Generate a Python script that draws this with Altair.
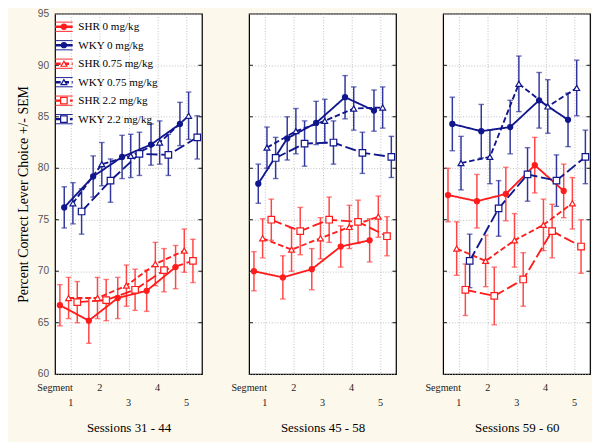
import altair as alt
import pandas as pd

# ---------------- data ----------------
panels = ["Sessions 31 - 44", "Sessions 45 - 58", "Sessions 59 - 60"]
segments = [1, 2, 3, 4, 5]
segment_axis_name = "Segment"
series_names = ["SHR 0 mg/kg", "WKY 0 mg/kg", "SHR 0.75 mg/kg",
                "WKY 0.75 mg/kg", "SHR 2.2 mg/kg", "WKY 2.2 mg/kg"]
series_strain = ["SHR", "WKY", "SHR", "WKY", "SHR", "WKY"]
series_dose = ["0", "0", "0.75", "0.75", "2.2", "2.2"]

# means (rows follow series_names, columns follow segments)
means_p1 = [
    [66.7, 65.2, 67.4, 68.1, 70.4],
    [76.2, 79.2, 81.1, 82.3, 84.3],
    [67.4, 67.4, 68.6, 70.7, 72.0],
    [76.6, 80.4, 81.2, 82.5, 85.1],
    [67.0, 67.2, 68.2, 70.1, 71.0],
    [75.8, 78.8, 81.4, 81.3, 83.0],
]
means_p2 = [
    [70.0, 69.4, 70.2, 72.4, 73.0],
    [78.5, 82.9, 84.4, 86.9, 85.6],
    [73.2, 72.1, 73.2, 74.3, 75.3],
    [82.0, 83.6, 84.6, 85.8, 85.9],
    [75.0, 73.9, 75.0, 74.8, 73.4],
    [81.0, 82.4, 82.5, 81.5, 81.1],
]
means_p3 = [
    [77.4, 76.8, 77.5, 80.3, 77.8],
    [84.3, 83.6, 84.0, 86.6, 84.7],
    [72.2, 71.0, 73.0, 74.5, 76.6],
    [80.5, 81.1, 88.2, 86.0, 87.8],
    [68.2, 67.6, 69.2, 73.9, 72.4],
    [71.0, 76.1, 79.4, 78.8, 81.1],
]
# standard errors
sem_p1 = [
    [2.0, 2.2, 2.0, 2.0, 2.1],
    [2.0, 2.0, 2.1, 2.0, 2.1],
    [2.0, 2.0, 2.0, 2.1, 2.1],
    [2.0, 2.1, 2.1, 2.1, 2.3],
    [2.0, 2.0, 2.0, 2.1, 2.1],
    [2.2, 2.1, 2.1, 2.0, 2.1],
]
sem_p2 = [
    [1.9, 2.1, 2.0, 2.0, 2.1],
    [1.9, 2.1, 2.1, 2.1, 2.0],
    [1.9, 2.1, 2.0, 2.1, 2.0],
    [2.0, 2.2, 2.1, 2.1, 2.0],
    [2.0, 2.3, 2.2, 2.1, 1.9],
    [2.0, 2.2, 2.1, 2.0, 2.0],
]
sem_p3 = [
    [2.6, 2.6, 2.6, 2.7, 2.6],
    [2.6, 2.6, 2.6, 2.7, 2.6],
    [2.6, 2.5, 2.6, 2.5, 2.5],
    [2.6, 2.6, 2.7, 2.6, 2.7],
    [2.5, 2.8, 2.6, 2.6, 2.6],
    [2.6, 2.7, 2.6, 2.5, 2.6],
]
all_means = [means_p1, means_p2, means_p3]
all_sems = [sem_p1, sem_p2, sem_p3]

y_tick_values = [60, 65, 70, 75, 80, 85, 90, 95]
y_min, y_max = 60, 95
x_min, x_max = 0.46, 5.54

rows = []
for p, panel in enumerate(panels):
    for s, name in enumerate(series_names):
        for k, seg in enumerate(segments):
            rows.append({"panel": panel, "series": name, "sidx": s,
                         "strain": series_strain[s], "dose": series_dose[s],
                         "segment": seg, "mean": all_means[p][s][k],
                         "sem": all_sems[p][s][k]})
df = pd.DataFrame(rows)

legend_df = pd.DataFrame({"series": series_names, "strain": series_strain,
                          "dose": series_dose, "row": list(range(len(series_names)))})
ytick_df = pd.DataFrame({"v": y_tick_values[1:-1]})
xlab_df = pd.DataFrame({"pos": [x_min] + segments,
                        "label": [segment_axis_name] + [str(s) for s in segments]})

# ---------------- style ----------------
RED = "#ff1c1c"
NAVY = "#10168c"
RED_ERR = "#ff4545"
NAVY_ERR = "#30369c"
BG = "#fdf8ec"
SERIF = "Liberation Serif"
W, H = 159, 390

x_scale = alt.Scale(domain=[x_min, x_max], nice=False, zero=False)
y_scale = alt.Scale(domain=[y_min, y_max], nice=False, zero=False)
dash_scale = alt.Scale(domain=["0", "0.75", "2.2"], range=[[1, 0], [6, 3], [12, 4]])
shape_scale = alt.Scale(domain=["0", "0.75", "2.2"], range=["circle", "triangle-up", "square"])
size_scale = alt.Scale(domain=["0", "0.75", "2.2"], range=[30, 50, 38])
fill_scale = alt.Scale(domain=series_names, range=[RED, NAVY, "white", "white", "white", "white"])
stroke_scale = alt.Scale(domain=["SHR", "WKY"], range=[RED, NAVY])
main_col = "datum.strain == 'SHR' ? '%s' : '%s'" % (RED, NAVY)
err_col = "datum.strain == 'SHR' ? '%s' : '%s'" % (RED_ERR, NAVY_ERR)


def x_axis(title):
    return alt.Axis(values=segments, labels=False, title=title, titlePadding=51)


def y_axis(first):
    if first:
        return alt.Axis(values=y_tick_values, title="Percent Correct Lever Choice +/- SEM",
                        labelPadding=7, titlePadding=8, titleFontSize=15)
    return alt.Axis(values=y_tick_values, labels=False, title=None)


def make_panel(p):
    first = p == 0
    X = lambda f: alt.X(f, scale=x_scale, axis=x_axis(panels[p]))
    Y = lambda f: alt.Y(f, scale=y_scale, axis=y_axis(first))
    base = alt.Chart(df[df["panel"] == panels[p]]).transform_calculate(
        xpos="datum.segment + (datum.sidx - 2.5) * 0.15",
        lo="datum.mean - datum.sem",
        hi="datum.mean + datum.sem",
        maincol=main_col,
        errcol=err_col,
    )
    err = base.mark_rule(strokeWidth=1.6).encode(
        x=X("xpos:Q"), y=Y("lo:Q"), y2="hi:Q",
        color=alt.Color("errcol:N", scale=None))
    cap_lo = base.mark_tick(orient="horizontal", size=6, thickness=1.5).encode(
        x=X("xpos:Q"), y=Y("lo:Q"), color=alt.Color("errcol:N", scale=None))
    cap_hi = base.mark_tick(orient="horizontal", size=6, thickness=1.5).encode(
        x=X("xpos:Q"), y=Y("hi:Q"), color=alt.Color("errcol:N", scale=None))
    lines = base.mark_line(strokeWidth=2).encode(
        x=X("xpos:Q"), y=Y("mean:Q"),
        color=alt.Color("maincol:N", scale=None),
        strokeDash=alt.StrokeDash("dose:N", scale=dash_scale, legend=None),
        detail="series:N", order="segment:Q")
    pts = base.mark_point(opacity=1, fillOpacity=1, strokeWidth=1.3).encode(
        x=X("xpos:Q"), y=Y("mean:Q"),
        shape=alt.Shape("dose:N", scale=shape_scale, legend=None),
        size=alt.Size("dose:N", scale=size_scale, legend=None),
        fill=alt.Fill("series:N", scale=fill_scale, legend=None),
        stroke=alt.Stroke("strain:N", scale=stroke_scale, legend=None))
    tick_base = alt.Chart(ytick_df)
    tl = tick_base.mark_rule(color="black", strokeWidth=1).encode(
        y=Y("v:Q"), x=alt.value(0), x2=alt.value(4))
    tr = tick_base.mark_rule(color="black", strokeWidth=1).encode(
        y=Y("v:Q"), x=alt.value(W - 4), x2=alt.value(W))
    # staggered segment labels below the panel
    xl = alt.Chart(xlab_df).transform_calculate(
        lower="datum.pos % 2 == 1")
    xl_top = xl.transform_filter("!datum.lower").mark_text(
        font=SERIF, fontSize=11, color="#222", baseline="middle").encode(
        x=X("pos:Q"), y=alt.value(H + 15), text="label:N")
    xl_bot = xl.transform_filter("datum.lower").mark_text(
        font=SERIF, fontSize=11, color="#222", baseline="middle").encode(
        x=X("pos:Q"), y=alt.value(H + 31), text="label:N")
    layers = [tl, tr, err, cap_lo, cap_hi, lines, pts, xl_top, xl_bot]

    if first:
        lb = alt.Chart(legend_df).transform_calculate(
            ly="%d - (14 + datum.row * 20) * %d / %d" % (y_max, y_max - y_min, H),
            maincol=main_col)
        thin_top = lb.mark_rule(strokeWidth=1, yOffset=-5).encode(
            y=Y("ly:Q"), x=alt.value(0), x2=alt.value(19),
            color=alt.Color("maincol:N", scale=None))
        thin_bot = lb.mark_rule(strokeWidth=1, yOffset=5).encode(
            y=Y("ly:Q"), x=alt.value(0), x2=alt.value(19),
            color=alt.Color("maincol:N", scale=None))
        thick = lb.mark_rule(strokeWidth=2.6).encode(
            y=Y("ly:Q"), x=alt.value(0), x2=alt.value(19),
            color=alt.Color("maincol:N", scale=None),
            strokeDash=alt.StrokeDash("dose:N", scale=dash_scale, legend=None))
        lpts = lb.mark_point(opacity=1, fillOpacity=1, strokeWidth=1.3).encode(
            y=Y("ly:Q"), x=alt.value(9.5),
            shape=alt.Shape("dose:N", scale=shape_scale, legend=None),
            size=alt.Size("dose:N", scale=size_scale, legend=None),
            fill=alt.Fill("series:N", scale=fill_scale, legend=None),
            stroke=alt.Stroke("strain:N", scale=stroke_scale, legend=None))
        ltext = lb.mark_text(align="left", baseline="middle", font=SERIF,
                             fontSize=12, color="black").encode(
            y=Y("ly:Q"), x=alt.value(25), text="series:N")
        layers += [thin_top, thin_bot, thick, lpts, ltext]

    return alt.layer(*layers).properties(width=W, height=H)


chart = alt.hconcat(*[make_panel(p) for p in range(3)], spacing=29).properties(
    background=BG,
    padding={"left": 8, "top": -19, "right": 0, "bottom": 0},
).configure_view(
    stroke="black", strokeWidth=1.3, fill="white"
).configure_axis(
    grid=True, gridColor="#b5b5b5", gridDash=[1, 2], gridWidth=1,
    tickSize=0, domain=False,
    titleFont=SERIF, titleFontSize=14, titleFontWeight="normal", titleColor="black",
).configure_axisY(
    labelFont="Liberation Sans", labelFontSize=11, labelColor="#555",
)

chart.save("out.html", embed_options={"renderer": "svg", "actions": False})
